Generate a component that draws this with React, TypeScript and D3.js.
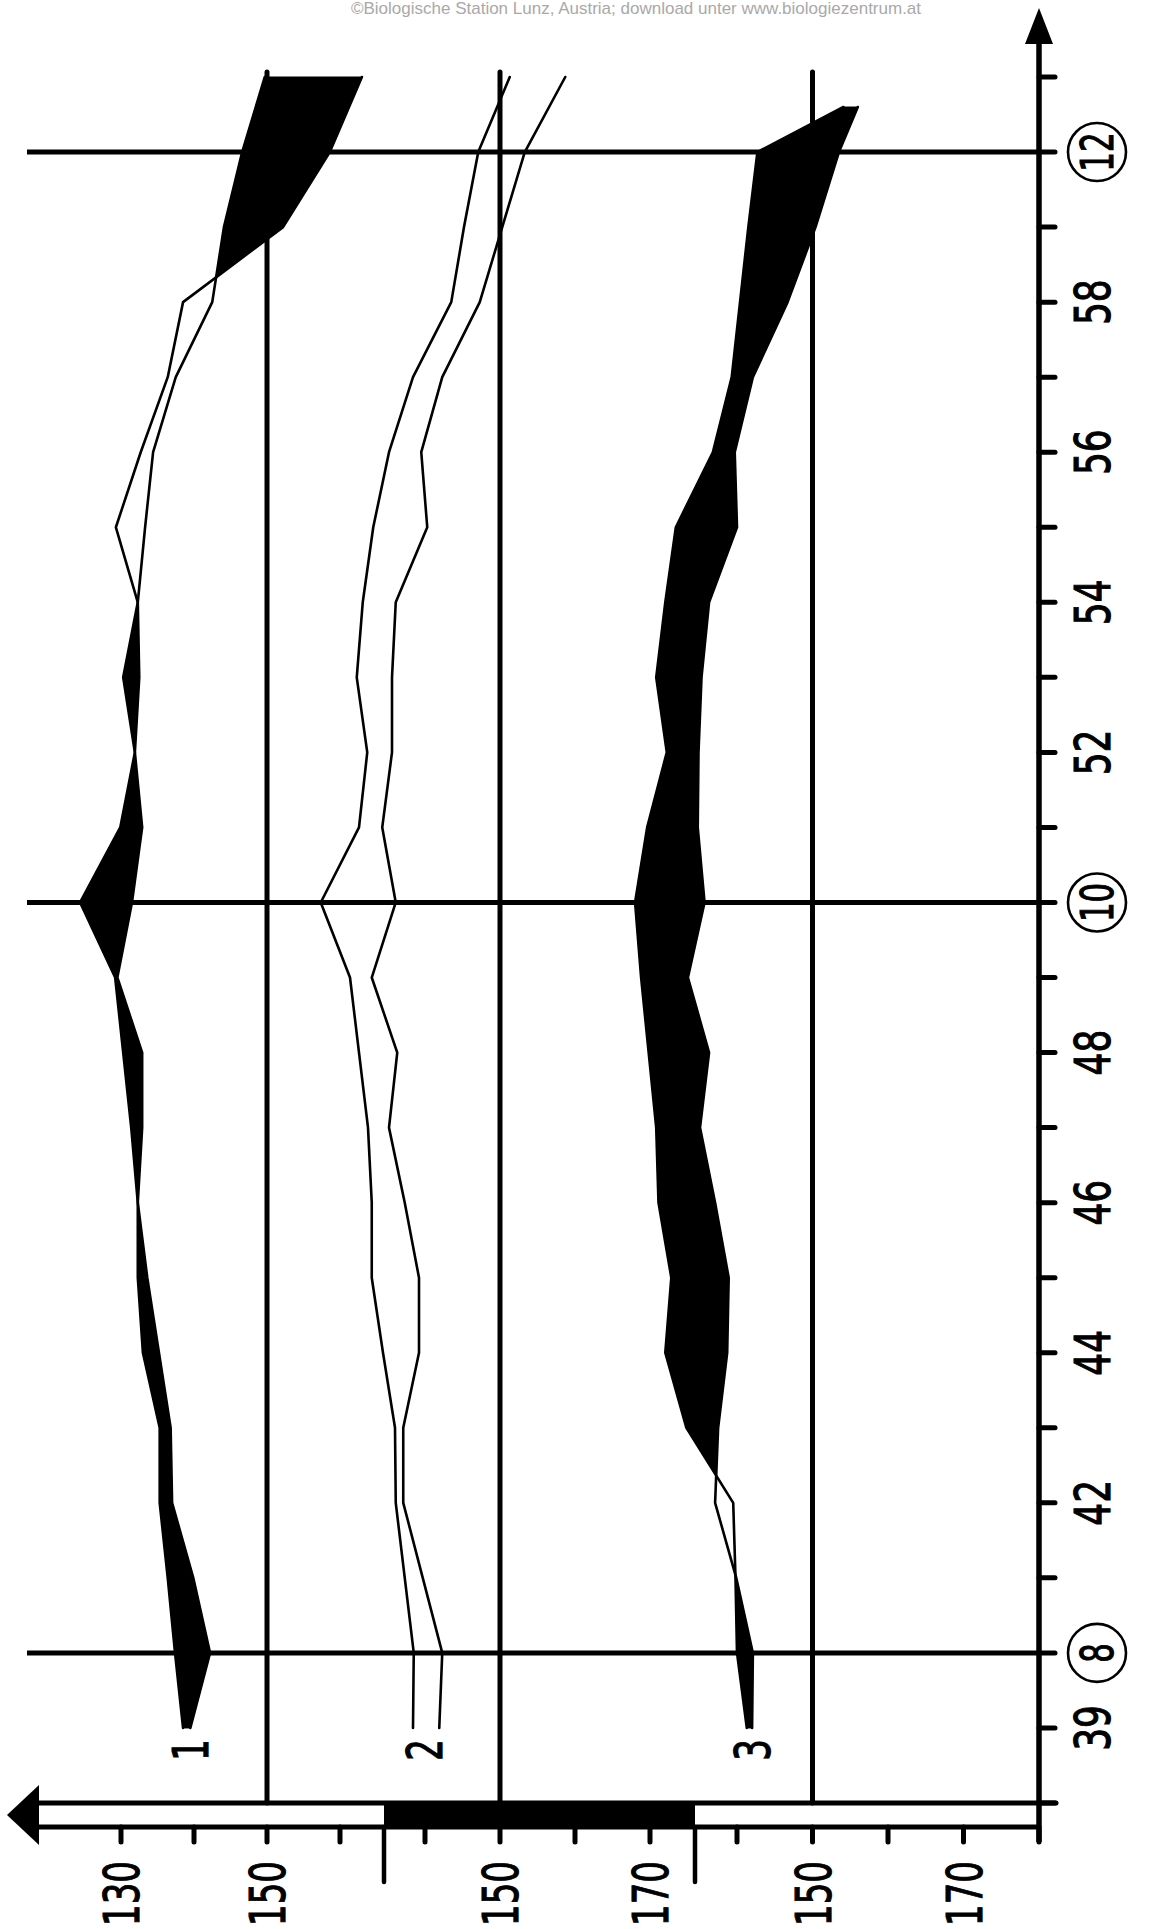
import React from 'react';
import * as d3 from 'd3';

// week numbers (after week 52 the count just continues)
const weeks = [39, 40, 41, 42, 43, 44, 45, 46, 47, 48, 49, 50, 51, 52, 53, 54, 55, 56, 57, 58, 59, 60, 61];
const s3Weeks = [39, 40, 41, 42, 43, 44, 45, 46, 47, 48, 49, 50, 51, 52, 53, 54, 55, 56, 57, 58, 59, 60, 60.6];

// series 1 (panel 1 scale), black where B lies left of A
const s1A = [139.5, 142.2, 139.9, 137.0, 136.8, 135.2, 133.6, 132.3, 132.9, 132.9, 129.5, 131.5, 132.9, 131.9, 132.5, 132.3, 129.3, 132.7, 136.4, 138.5, 152.2, 158.6, 163.0];
const s1B = [138.5, 137.4, 136.4, 135.3, 135.3, 133.0, 132.3, 132.3, 131.4, 130.3, 129.2, 124.4, 129.9, 131.9, 130.3, 132.3, 133.3, 134.4, 137.5, 142.5, 144.1, 146.6, 149.7];

// series 2 (panel 2 scale), two lines only
const s2A = [141.9, 142.3, 139.7, 137.1, 137.1, 139.2, 139.2, 137.3, 135.2, 136.3, 132.9, 136.1, 134.3, 135.6, 135.6, 136.1, 140.3, 139.5, 142.3, 147.3, 150.3, 153.3, 158.7];
const s2B = [138.4, 138.5, 137.3, 136.1, 136.0, 134.4, 132.9, 132.9, 132.4, 131.2, 130.0, 126.1, 131.2, 132.3, 130.9, 131.7, 133.1, 135.2, 138.4, 143.5, 145.2, 147.1, 151.3];

// series 3 (panel 3 scale)
const s3A = [142.0, 142.1, 139.9, 137.1, 137.5, 138.7, 138.9, 137.1, 135.1, 136.3, 133.5, 135.7, 134.8, 134.9, 135.3, 136.3, 140.0, 139.7, 142.1, 146.7, 150.4, 153.5, 156.0];
const s3B = [141.3, 140.0, 139.8, 139.5, 133.3, 130.5, 131.3, 129.6, 129.3, 128.3, 127.3, 126.5, 128.1, 130.7, 129.3, 130.5, 131.9, 136.8, 139.3, 140.4, 141.5, 142.7, 154.1];

const weekLabels = [39, 42, 44, 46, 48, 52, 54, 56, 58];
const monthWeeks = [40, 50, 60];
const monthLabels = ['8', '10', '12'];

const p1Ticks = [130, 140, 150, 160];
const p1Labels = [130, 150];
const p2Ticks = [140, 150, 160, 170];
const p2Labels = [150, 170];
const p3Ticks = [140, 150, 160, 170, 180];
const p3Labels = [150, 170];

const W = 1156;
const H = 1929;
const AX = 1039; // right (time) axis
const BAR_TOP = 1803;
const BAR_BOT = 1827;

const y = d3.scaleLinear().domain([38, 61]).range([BAR_TOP, 77]);
const x1 = d3.scaleLinear().domain([130, 160]).range([121, 340]);
const x2 = d3.scaleLinear().domain([140, 170]).range([425, 650]);
const x3 = d3.scaleLinear().domain([140, 180]).range([737, AX]);

const FONT = '"DejaVu Sans", "Liberation Sans", sans-serif';

type P = { w: number; a: number; b: number };

// adds the crossing points so the black band stops exactly where lines cross
function bandPoints(ws: number[], A: number[], B: number[]): P[] {
  const out: P[] = [];
  for (let i = 0; i < ws.length; i++) {
    out.push({ w: ws[i], a: A[i], b: B[i] });
    if (i < ws.length - 1) {
      const d0 = A[i] - B[i];
      const d1 = A[i + 1] - B[i + 1];
      if (d0 * d1 < 0) {
        const t = d0 / (d0 - d1);
        out.push({
          w: ws[i] + t * (ws[i + 1] - ws[i]),
          a: A[i] + t * (A[i + 1] - A[i]),
          b: B[i] + t * (B[i + 1] - B[i]),
        });
      }
    }
  }
  return out;
}

const RotText = ({ x, yy, text, anchor = 'middle', size = 50, sx = 0.68 }) => (
  <text
    transform={`translate(${x},${yy}) rotate(-90) scale(${sx},1)`}
    textAnchor={anchor}
    dy="0.36em"
    fontSize={size}
    fontFamily={FONT}
    fill="#000"
    stroke="#000"
    strokeWidth={1.1}
  >
    {text}
  </text>
);

const Series = ({ ws, A, B, sc, fill }) => {
  const lineGen = d3.line<number>()
    .x((v) => sc(v))
    .y((_, i) => y(ws[i]));
  const pts = bandPoints(ws, A, B);
  const areaGen = d3.area<P>()
    .y((d) => y(d.w))
    .x0((d) => sc(d.b))
    .x1((d) => sc(Math.max(d.a, d.b)));
  return (
    <g>
      {fill && <path d={areaGen(pts) || ''} fill="#000" stroke="#000" strokeWidth={1} />}
      <path d={lineGen(A) || ''} fill="none" stroke="#000" strokeWidth={2.6} strokeLinejoin="round" strokeLinecap="round" />
      <path d={lineGen(B) || ''} fill="none" stroke="#000" strokeWidth={2.6} strokeLinejoin="round" strokeLinecap="round" />
    </g>
  );
};

const App = () => {
  const weekTicks = d3.range(38, 62);
  const panels = [
    { sc: x1, ticks: p1Ticks, labels: p1Labels },
    { sc: x2, ticks: p2Ticks, labels: p2Labels },
    { sc: x3, ticks: p3Ticks, labels: p3Labels },
  ];
  const segEdges = [384, 695];

  return (
    <svg width={W} height={H} style={{ position: 'absolute', left: 0, top: 0, background: '#fff' }}>
      <rect width={W} height={H} fill="#fff" />

      {/* watermark at the top edge */}
      <text x={636} y={14} textAnchor="middle" fontSize={17} fontFamily='"Liberation Sans", Arial, sans-serif' fill="#a9a9a9">
        ©Biologische Station Lunz, Austria; download unter www.biologiezentrum.at
      </text>

      {/* month lines */}
      {monthWeeks.map((w) => (
        <line key={'m' + w} x1={27} x2={AX} y1={y(w)} y2={y(w)} stroke="#000" strokeWidth={5} />
      ))}

      {/* 150 reference lines of each panel */}
      {panels.map((p, i) => (
        <line key={'r' + i} x1={p.sc(150)} x2={p.sc(150)} y1={72} y2={BAR_TOP} stroke="#000" strokeWidth={5} strokeLinecap="round" />
      ))}

      {/* data */}
      <Series ws={weeks} A={s1A} B={s1B} sc={x1} fill={true} />
      <Series ws={weeks} A={s2A} B={s2B} sc={x2} fill={false} />
      <Series ws={s3Weeks} A={s3A} B={s3B} sc={x3} fill={true} />

      {/* bottom bar (value axis) */}
      <rect x={segEdges[0]} y={BAR_TOP} width={segEdges[1] - segEdges[0]} height={BAR_BOT - BAR_TOP} fill="#000" />
      <line x1={36} x2={1056} y1={BAR_TOP} y2={BAR_TOP} stroke="#000" strokeWidth={5} strokeLinecap="round" />
      <line x1={36} x2={AX} y1={BAR_BOT} y2={BAR_BOT} stroke="#000" strokeWidth={5} />
      <polygon points={`7,1815 39,1785 39,1845`} fill="#000" />
      {segEdges.map((e) => (
        <line key={'e' + e} x1={e} x2={e} y1={BAR_BOT} y2={1882} stroke="#000" strokeWidth={4.5} strokeLinecap="round" />
      ))}
      {panels.map((p, i) => (
        <g key={'pt' + i}>
          {p.ticks.map((t) => (
            <line key={t} x1={p.sc(t)} x2={p.sc(t)} y1={BAR_BOT} y2={1842} stroke="#000" strokeWidth={5} strokeLinecap="round" />
          ))}
          {p.labels.map((t) => (
            <RotText key={'l' + t} x={p.sc(t)} yy={1861} text={String(t)} anchor="end" />
          ))}
        </g>
      ))}

      {/* right time axis */}
      <line x1={AX} x2={AX} y1={1842} y2={40} stroke="#000" strokeWidth={5.5} />
      <polygon points={`${AX},8 ${AX - 14},44 ${AX + 14},44`} fill="#000" />
      {weekTicks.map((w) => (
        <line key={'t' + w} x1={AX} x2={1055} y1={y(w)} y2={y(w)} stroke="#000" strokeWidth={5} strokeLinecap="round" />
      ))}
      {weekLabels.map((w) => (
        <RotText key={'wl' + w} x={1092} yy={y(w)} text={String(w)} sx={0.72} />
      ))}
      {monthWeeks.map((w, i) => (
        <g key={'c' + w}>
          <circle cx={1097} cy={y(w)} r={29} fill="#fff" stroke="#000" strokeWidth={2.6} />
          <RotText x={1097} yy={y(w)} text={monthLabels[i]} size={44} sx={0.7} />
        </g>
      ))}

      {/* series numbers */}
      <RotText x={190} yy={1750} text="1" />
      <RotText x={424} yy={1750} text="2" />
      <RotText x={752} yy={1750} text="3" />
    </svg>
  );
};

export default App;
